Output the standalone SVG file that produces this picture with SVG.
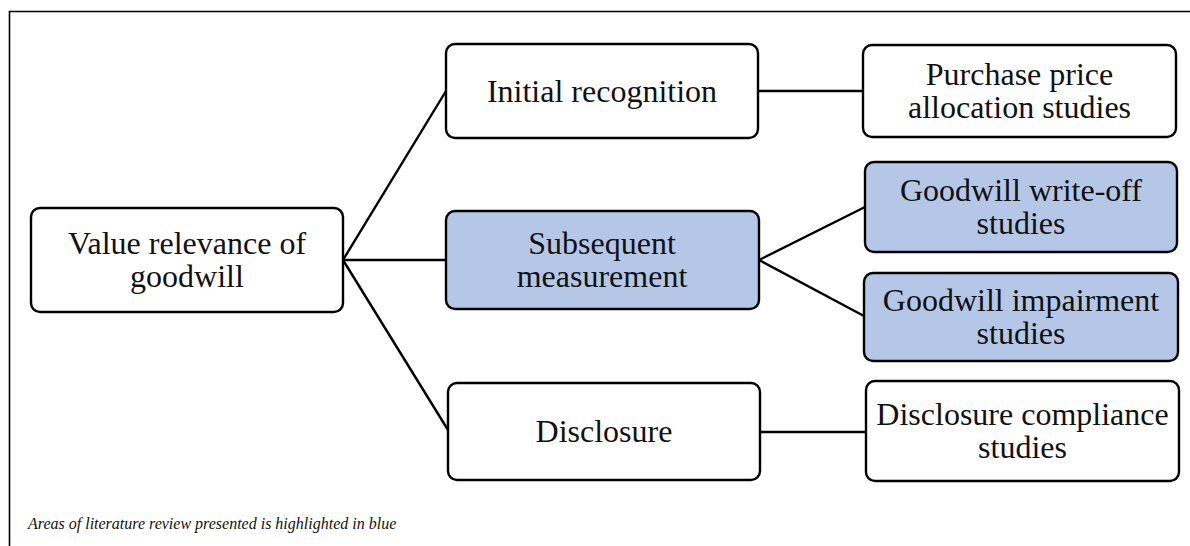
<svg xmlns="http://www.w3.org/2000/svg" width="1190" height="546" viewBox="0 0 1190 546">
  <style>
    .box { fill: #ffffff; stroke: #000000; stroke-width: 2.4; }
    .hl { fill: #b4c7e7; }
    .lbl { font-family: "Liberation Serif", "Times New Roman", serif; font-size: 32px; fill: #111111; text-anchor: middle; }
    .edge { stroke: #000000; stroke-width: 2.4; fill: none; }
    .frame { stroke: #000000; stroke-width: 1.6; fill: none; }
    .note { font-family: "Liberation Serif", "Times New Roman", serif; font-size: 16px; font-style: italic; fill: #111111; }
  </style>
  <rect width="1190" height="546" fill="#ffffff"/>

  <!-- frame: top and left rules -->
  <path class="frame" d="M9.5 546 V11.5 H1190"/>

  <!-- connectors -->
  <g id="connectors">
    <line class="edge" x1="343" y1="260" x2="446" y2="91"/>
    <line class="edge" x1="343" y1="260" x2="446" y2="260"/>
    <line class="edge" x1="343" y1="260" x2="448" y2="430"/>
    <line class="edge" x1="758" y1="91" x2="863" y2="91"/>
    <line class="edge" x1="759" y1="260" x2="865" y2="207"/>
    <line class="edge" x1="759" y1="260" x2="864" y2="316"/>
    <line class="edge" x1="760" y1="432" x2="866" y2="432"/>
  </g>

  <g id="node-value-relevance">
    <rect class="box" x="31" y="208" width="312" height="104" rx="9"/>
    <text class="lbl" x="187" y="254">Value relevance of</text>
    <text class="lbl" x="187" y="287">goodwill</text>
  </g>

  <g id="node-initial-recognition">
    <rect class="box" x="446" y="44" width="312" height="94" rx="9"/>
    <text class="lbl" x="602" y="102">Initial recognition</text>
  </g>

  <g id="node-subsequent-measurement">
    <rect class="box hl" x="446" y="211" width="313" height="98" rx="9"/>
    <text class="lbl" x="602" y="254">Subsequent</text>
    <text class="lbl" x="602" y="287">measurement</text>
  </g>

  <g id="node-disclosure">
    <rect class="box" x="448" y="383" width="312" height="97" rx="9"/>
    <text class="lbl" x="604" y="442">Disclosure</text>
  </g>

  <g id="node-ppa-studies">
    <rect class="box" x="863" y="45" width="313" height="92" rx="9"/>
    <text class="lbl" x="1019.5" y="85">Purchase price</text>
    <text class="lbl" x="1019.5" y="118">allocation studies</text>
  </g>

  <g id="node-writeoff-studies">
    <rect class="box hl" x="865" y="162" width="312" height="90" rx="9"/>
    <text class="lbl" x="1021" y="201">Goodwill write-off</text>
    <text class="lbl" x="1021" y="234">studies</text>
  </g>

  <g id="node-impairment-studies">
    <rect class="box hl" x="864" y="273" width="314" height="88" rx="9"/>
    <text class="lbl" x="1021" y="311">Goodwill impairment</text>
    <text class="lbl" x="1021" y="344">studies</text>
  </g>

  <g id="node-compliance-studies">
    <rect class="box" x="866" y="381" width="313" height="100" rx="9"/>
    <text class="lbl" x="1022.5" y="425">Disclosure compliance</text>
    <text class="lbl" x="1022.5" y="458">studies</text>
  </g>

  <text class="note" x="28" y="529">Areas of literature review presented is highlighted in blue</text>
</svg>
